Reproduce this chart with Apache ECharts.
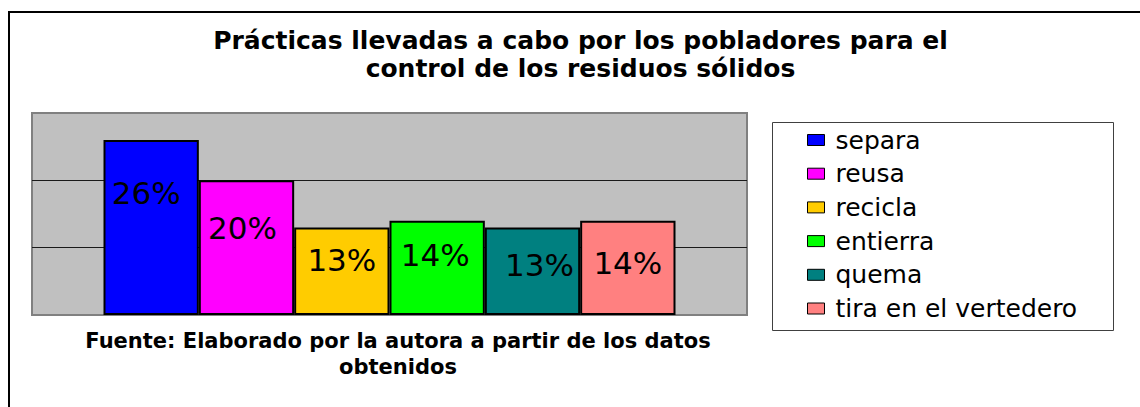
<!DOCTYPE html>
<html>
<head>
<meta charset="utf-8">
<script src="https://cdn.jsdelivr.net/npm/echarts@6/dist/echarts.min.js"></script>
<style>
  html, body { margin: 0; padding: 0; background: #ffffff; }
  #chart { width: 1140px; height: 407px; }
</style>
</head>
<body>
<div id="chart"></div>
<script>
// ---- data ----
const titleText = 'Prácticas llevadas a cabo por los pobladores para el\ncontrol de los residuos sólidos';
const sourceText = 'Fuente: Elaborado por la autora a partir de los datos\nobtenidos';
const categories = ['separa', 'reusa', 'recicla', 'entierra', 'quema', 'tira en el vertedero'];
const values = [26, 20, 13, 14, 13, 14];
const yTicks = [0, 10, 20, 30];

// ---- styles ----
const colors = ['#0000FF', '#FF00FF', '#FFCC00', '#00FF00', '#008080', '#FF8080'];
const labelDy = [53, 48, 33, 34, 38, 42];
const labelDx = [-5, -4, 0, -2, 7, 0];
const FONT = 'DejaVu Sans';

const series = categories.map((name, i) => ({
  name: name,
  type: 'bar',
  data: [values[i]],
  barGap: '0%',
  barCategoryGap: '20%',
  itemStyle: { color: colors[i], borderColor: '#000000', borderWidth: 2 },
  label: {
    show: true,
    position: ['50%', labelDy[i]],
    offset: [labelDx[i], 0],
    align: 'center',
    verticalAlign: 'middle',
    formatter: '{c}%',
    fontFamily: FONT,
    fontSize: 31,
    color: '#000000'
  },
  emphasis: { disabled: true }
}));

const chart = echarts.init(document.getElementById('chart'), null, { renderer: 'svg' });
chart.setOption({
  backgroundColor: '#ffffff',
  animation: false,
  title: [
    {
      text: titleText,
      left: 580.5,
      top: 26,
      textAlign: 'center',
      padding: 0,
      textStyle: { fontFamily: FONT, fontWeight: 'bold', fontSize: 25, lineHeight: 28, color: '#000000' }
    },
    {
      text: sourceText,
      left: 398,
      top: 328,
      textAlign: 'center',
      padding: 0,
      textStyle: { fontFamily: FONT, fontWeight: 'bold', fontSize: 21, lineHeight: 26, color: '#000000' }
    }
  ],
  graphic: [
    {
      type: 'rect', silent: true, z: 0,
      shape: { x: 9, y: 12, width: 1200, height: 500 },
      style: { fill: 'none', stroke: '#000000', lineWidth: 2 }
    },
    {
      type: 'rect', silent: true, z: 0,
      shape: { x: 772.5, y: 122.5, width: 341, height: 208 },
      style: { fill: '#ffffff', stroke: '#404040', lineWidth: 1 }
    }
  ],
  legend: {
    orient: 'vertical',
    left: 807,
    top: 127.5,
    padding: 0,
    itemWidth: 17,
    itemHeight: 11,
    itemGap: 8.7,
    icon: 'rect',
    selectedMode: false,
    itemStyle: { borderColor: '#000000', borderWidth: 1 },
    textStyle: { fontFamily: FONT, fontSize: 25, lineHeight: 25, color: '#000000', padding: [0, 0, 0, 6] },
    data: categories
  },
  grid: {
    left: 32, top: 113, width: 715, height: 202,
    show: true,
    backgroundColor: '#C0C0C0',
    borderColor: '#808080',
    borderWidth: 2
  },
  xAxis: {
    type: 'category',
    data: [''],
    axisLine: { show: false },
    axisTick: { show: false },
    axisLabel: { show: false }
  },
  yAxis: {
    type: 'value',
    min: yTicks[0],
    max: yTicks[yTicks.length - 1],
    interval: yTicks[1] - yTicks[0],
    axisLine: { show: false },
    axisTick: { show: false },
    axisLabel: { show: false },
    splitLine: { show: true, showMinLine: false, showMaxLine: false, lineStyle: { color: '#1a1a1a', width: 1 } }
  },
  series: series
});
</script>
</body>
</html>
